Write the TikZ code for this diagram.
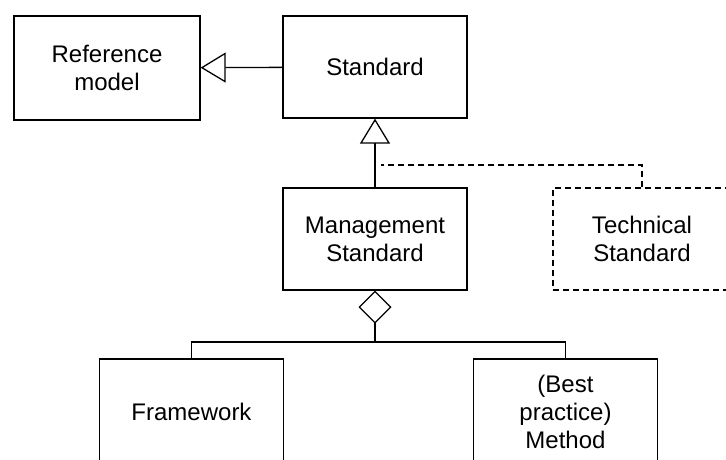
\documentclass[tikz,border=0pt]{standalone}
\usepackage{fontspec}
\setmainfont{Liberation Sans}
\usetikzlibrary{arrows.meta}

\begin{document}
\begin{tikzpicture}[x=1pt,y=-1pt,line width=1.3pt,
  cls/.style={draw,align=center,inner sep=0pt,minimum width=184pt,minimum height=102pt,
    font=\fontsize{24}{28}\selectfont},
  gen/.style={-{Triangle[open,length=25pt,width=30pt]}},
  aggr/.style={-{Diamond[open,length=33pt,width=33pt]}},
  dep/.style={dash pattern=on 6pt off 4pt}]
  \useasboundingbox (0,0) rectangle (726,459);
  \clip (0,0) rectangle (726,459);
  \node[cls,minimum width=186pt,minimum height=104pt] (refm) at (107,68) {Reference\\model};
  \node[cls] (std) at (375,67) {Standard};
  \node[cls] (mgmt) at (375,239) {Management\\Standard};
  \node[cls,dep,minimum width=178pt] (tech) at (642,239) {Technical\\Standard};
  \node[cls,minimum height=106pt] (frame) at (191.5,412) {Framework};
  \node[cls,minimum height=106pt] (meth) at (565.5,412) {(Best\\practice)\\Method};
  % generalisation
  \draw[gen] (std) -- (refm);
  \draw[gen] (mgmt) -- (std);
  \coordinate (gjoin) at (381,165);
  \draw[dep] (tech.north) |- (gjoin);
  % aggregation
  \coordinate (split) at (375,342);
  \draw[aggr] (split) -- (mgmt.south);
  \draw (frame.north) |- (split) -| (meth.north);
\end{tikzpicture}
\end{document}
